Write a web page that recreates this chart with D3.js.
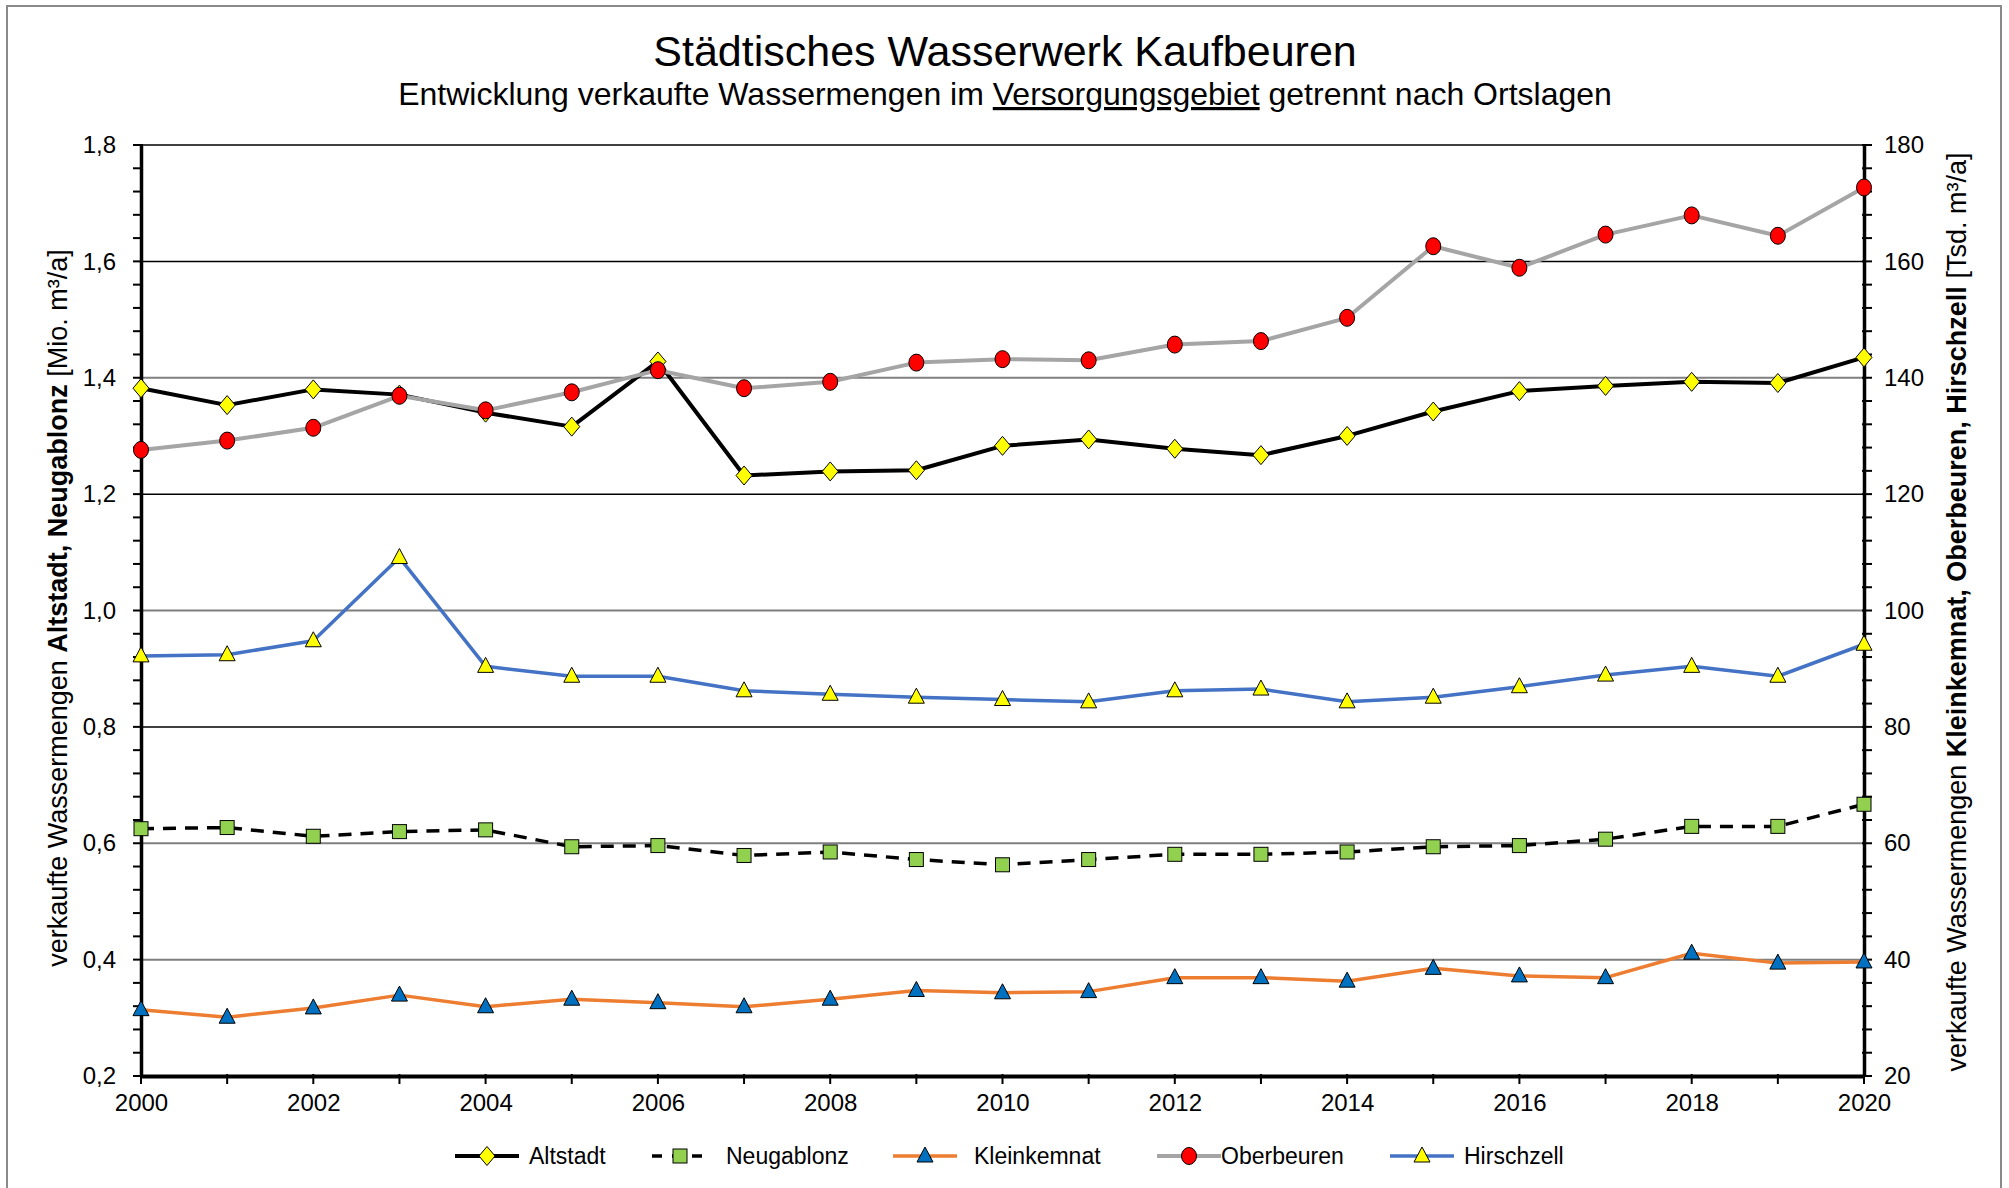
<!DOCTYPE html>
<html>
<head>
  <meta charset="utf-8">
  <title>Städtisches Wasserwerk Kaufbeuren</title>
  <script src="https://d3js.org/d3.v7.min.js"></script>
  <style>
    body { margin: 0; background: #fff; }
    text { font-family: "Liberation Sans", Arial, sans-serif; }
  </style>
</head>
<body>
  <div id="chart"></div>
  <script>
    // Years on the x axis
    const years = d3.range(2000, 2021);

    // Left axis series [Mio. m³/a]
    const altstadt = [1.382, 1.353, 1.380, 1.371, 1.340, 1.316, 1.428, 1.232, 1.239, 1.241, 1.283,
                      1.294, 1.278, 1.267, 1.300, 1.342, 1.377, 1.386, 1.393, 1.391, 1.435];
    const neugablonz = [0.625, 0.627, 0.612, 0.620, 0.623, 0.594, 0.596, 0.579, 0.585, 0.572, 0.563,
                        0.572, 0.581, 0.581, 0.585, 0.594, 0.596, 0.607, 0.629, 0.629, 0.667];

    // Right axis series [Tsd. m³/a]
    const kleinkemnat = [31.4, 30.1, 31.7, 33.9, 31.9, 33.2, 32.6, 31.9, 33.2, 34.7, 34.3,
                         34.5, 36.9, 36.9, 36.3, 38.5, 37.2, 36.9, 41.1, 39.4, 39.6];
    const oberbeuren = [127.6, 129.2, 131.4, 136.9, 134.4, 137.5, 141.3, 138.2, 139.3, 142.6, 143.2,
                        143.0, 145.7, 146.3, 150.3, 162.6, 158.9, 164.6, 167.9, 164.4, 172.7];
    const hirschzell = [92.2, 92.4, 94.8, 109.1, 90.4, 88.7, 88.7, 86.2, 85.6, 85.1, 84.7,
                        84.3, 86.2, 86.5, 84.3, 85.1, 86.9, 88.9, 90.4, 88.7, 94.2];

    const leftTicks = [0.2, 0.4, 0.6, 0.8, 1.0, 1.2, 1.4, 1.6, 1.8];
    const rightTicks = [20, 40, 60, 80, 100, 120, 140, 160, 180];
    const yearTicks = d3.range(2000, 2021, 2);

    const W = 2009, H = 1188;
    const margin = { top: 145, right: 145, bottom: 112, left: 141 };
    const width = W - margin.left - margin.right;
    const height = H - margin.top - margin.bottom;

    const svg = d3.select("#chart").append("svg")
      .attr("width", W)
      .attr("height", H);

    // outer frame
    svg.append("rect")
      .attr("x", 7).attr("y", 6)
      .attr("width", 1994).attr("height", 1200)
      .attr("fill", "none")
      .attr("stroke", "#8a8a8a")
      .attr("stroke-width", 2);

    // titles
    svg.append("text")
      .attr("x", 1005).attr("y", 66)
      .attr("text-anchor", "middle")
      .style("font-size", "43px")
      .text("Städtisches Wasserwerk Kaufbeuren");

    const sub = svg.append("text")
      .attr("x", 1005).attr("y", 105)
      .attr("text-anchor", "middle")
      .style("font-size", "32px");
    sub.append("tspan").text("Entwicklung verkaufte Wassermengen im ");
    sub.append("tspan").style("text-decoration", "underline").text("Versorgungsgebiet");
    sub.append("tspan").text(" getrennt nach Ortslagen");

    const g = svg.append("g")
      .attr("transform", `translate(${margin.left},${margin.top})`);

    const x = d3.scaleLinear().domain([2000, 2020]).range([0, width]);
    const yL = d3.scaleLinear().domain([0.2, 1.8]).range([height, 0]);
    const yR = d3.scaleLinear().domain([20, 180]).range([height, 0]);

    // gridlines (some show up darker than others in the original)
    const darkGrid = [1.8, 1.6, 1.2, 0.8];
    const isDark = d => darkGrid.some(v => Math.abs(v - d) < 1e-6);
    g.append("g").selectAll("line")
      .data(leftTicks.slice(1))
      .join("line")
      .attr("x1", 0).attr("x2", width)
      .attr("y1", d => yL(d)).attr("y2", d => yL(d))
      .attr("stroke", d => isDark(d) ? "#000" : "#7f7f7f")
      .attr("stroke-width", d => isDark(d) ? 1.5 : 2);

    // minor ticks helper
    function minorTicks(axisG, scale, values, side) {
      axisG.selectAll(".minor")
        .data(values)
        .join("line")
        .attr("class", "minor")
        .attr("stroke", "#000")
        .attr("stroke-width", 2)
        .each(function (d) {
          const s = d3.select(this);
          if (side === "left") s.attr("x1", -8).attr("x2", 2).attr("y1", scale(d)).attr("y2", scale(d));
          if (side === "right") s.attr("x1", -2).attr("x2", 8).attr("y1", scale(d)).attr("y2", scale(d));
          if (side === "bottom") s.attr("y1", -2).attr("y2", 8).attr("x1", scale(d)).attr("x2", scale(d));
        });
    }

    const fmt = d3.format(".1f");
    const tickFont = "24px";

    // left axis
    const axL = g.append("g")
      .call(d3.axisLeft(yL).tickValues(leftTicks).tickSize(0).tickPadding(25)
        .tickFormat(d => fmt(d).replace(".", ",")));
    axL.select(".domain").attr("stroke-width", 3.5);
    axL.selectAll("text").style("font-size", tickFont).style("font-family", "Liberation Sans, Arial, sans-serif");
    minorTicks(axL, yL, d3.range(0, 41).map(i => 0.2 + i * 0.04), "left");

    // right axis
    const axR = g.append("g")
      .attr("transform", `translate(${width},0)`)
      .call(d3.axisRight(yR).tickValues(rightTicks).tickSize(0).tickPadding(20));
    axR.select(".domain").attr("stroke-width", 3.5);
    axR.selectAll("text").style("font-size", tickFont).style("font-family", "Liberation Sans, Arial, sans-serif");
    minorTicks(axR, yR, d3.range(0, 41).map(i => 20 + i * 4), "right");

    // bottom axis
    const axB = g.append("g")
      .attr("transform", `translate(0,${height})`)
      .call(d3.axisBottom(x).tickValues(yearTicks).tickSize(0).tickPadding(18).tickFormat(d3.format("d")));
    axB.select(".domain").attr("stroke-width", 4);
    axB.selectAll("text").style("font-size", tickFont).style("font-family", "Liberation Sans, Arial, sans-serif");
    minorTicks(axB, x, years, "bottom");

    // axis titles
    const tL = svg.append("text")
      .attr("transform", `translate(67,608) rotate(-90)`)
      .attr("text-anchor", "middle")
      .style("font-size", "27px");
    tL.append("tspan").text("verkaufte Wassermengen ");
    tL.append("tspan").style("font-weight", "bold").text("Altstadt, Neugablonz");
    tL.append("tspan").text("  [Mio. m³/a]");

    const tR = svg.append("text")
      .attr("transform", `translate(1966,612) rotate(-90)`)
      .attr("text-anchor", "middle")
      .style("font-size", "27px");
    tR.append("tspan").text("verkaufte Wassermengen ");
    tR.append("tspan").style("font-weight", "bold").text("Kleinkemnat, Oberbeuren, Hirschzell");
    tR.append("tspan").text("  [Tsd. m³/a]");

    // series
    const series = [
      { name: "Altstadt", values: altstadt, y: yL, stroke: "#000", width: 4, dash: null, marker: "diamond", fill: "#ffff00" },
      { name: "Neugablonz", values: neugablonz, y: yL, stroke: "#000", width: 3.5, dash: "13,9", marker: "square", fill: "#92d050" },
      { name: "Kleinkemnat", values: kleinkemnat, y: yR, stroke: "#ed7d31", width: 3.5, dash: null, marker: "triangle", fill: "#0070c0" },
      { name: "Oberbeuren", values: oberbeuren, y: yR, stroke: "#a5a5a5", width: 4, dash: null, marker: "circle", fill: "#ff0000" },
      { name: "Hirschzell", values: hirschzell, y: yR, stroke: "#4472c4", width: 3.5, dash: null, marker: "triangle", fill: "#ffff00" }
    ];

    function drawMarker(sel, type, fill) {
      if (type === "circle") {
        sel.append("ellipse").attr("rx", 7.5).attr("ry", 8.5);
      } else if (type === "diamond") {
        sel.append("path").attr("d", "M0,-9.5L8,0L0,9.5L-8,0Z");
      } else if (type === "square") {
        sel.append("rect").attr("x", -7).attr("y", -7).attr("width", 14).attr("height", 14);
      } else if (type === "triangle") {
        sel.append("path").attr("d", "M0,-9L8,6L-8,6Z");
      }
      sel.selectAll("*").attr("fill", fill).attr("stroke", "#000").attr("stroke-width", 1);
    }

    series.forEach(s => {
      const line = d3.line().x((d, i) => x(years[i])).y(d => s.y(d));
      g.append("path")
        .datum(s.values)
        .attr("d", line)
        .attr("fill", "none")
        .attr("stroke", s.stroke)
        .attr("stroke-width", s.width)
        .attr("stroke-linejoin", "round")
        .attr("stroke-dasharray", s.dash);

      g.append("g").selectAll("g")
        .data(s.values)
        .join("g")
        .attr("transform", (d, i) => `translate(${x(years[i])},${s.y(d)})`)
        .each(function () { drawMarker(d3.select(this), s.marker, s.fill); });
    });

    // legend
    const legendX = [455, 648, 893, 1157, 1390];
    const legendTextX = [529, 726, 974, 1221, 1464];
    const leg = svg.append("g").attr("transform", "translate(0,1156)");
    series.forEach((s, i) => {
      const item = leg.append("g").attr("transform", `translate(${legendX[i]},0)`);
      item.append("line")
        .attr("x1", 0).attr("x2", 64).attr("y1", 0).attr("y2", 0)
        .attr("stroke", s.stroke)
        .attr("stroke-width", s.width)
        .attr("stroke-dasharray", s.dash ? "10,10" : null)
        .attr("stroke-dashoffset", s.dash ? -4 : null);
      drawMarker(item.append("g").attr("transform", "translate(32,0)"), s.marker, s.fill);
      leg.append("text")
        .attr("x", legendTextX[i]).attr("y", 8)
        .style("font-size", "23px")
        .text(s.name);
    });
  </script>
</body>
</html>
